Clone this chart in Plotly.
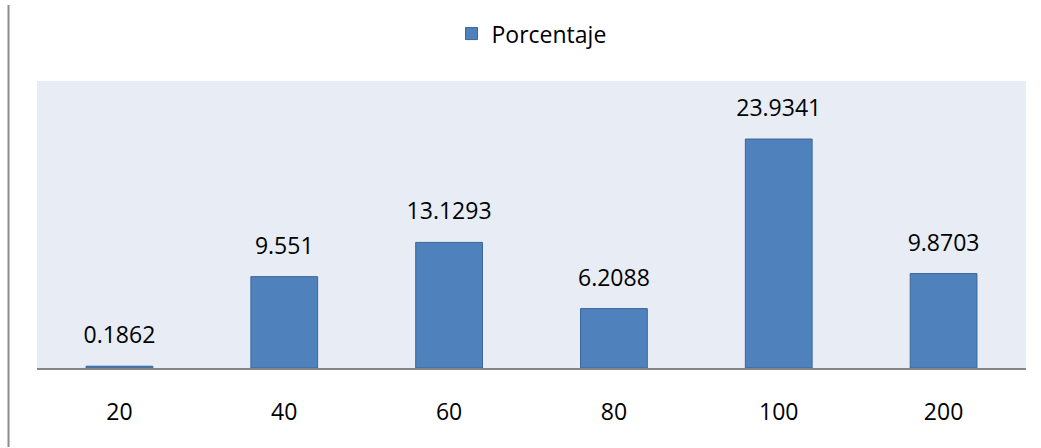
import plotly.graph_objects as go

categories = ["20", "40", "60", "80", "100", "200"]
values = [0.1862, 9.551, 13.1293, 6.2088, 23.9341, 9.8703]
labels = ["0.1862", "9.551", "13.1293", "6.2088", "23.9341", "9.8703"]
series_name = "Porcentaje"

FONT = "Open Sans"
FS = 23

fig = go.Figure()
fig.add_trace(go.Bar(
    x=categories, y=values, name=series_name,
    marker=dict(color="#4F81BD", line=dict(color="#3B6699", width=1)),
    width=0.405,
))
# data labels
fig.add_trace(go.Scatter(
    x=categories, y=values, text=labels, mode="markers+text",
    textposition="top center", marker=dict(size=26, opacity=0),
    textfont=dict(family=FONT, size=FS, color="#000000"),
    showlegend=False, hoverinfo="skip",
))

W, H = 1041, 448
ml, mr, mt, mb = 37, 15, 77, 80
pw = W - ml - mr
fig.add_shape(type="line", xref="paper", yref="paper",
              x0=(8.5 - ml) / pw, x1=(8.5 - ml) / pw, y0=-mb / (H - mt - mb), y1=1 + mt / (H - mt - mb),
              line=dict(color="#8C8C8C", width=2))

fig.update_layout(
    width=W, height=H,
    margin=dict(l=ml, r=mr, t=mt, b=mb),
    paper_bgcolor="white", plot_bgcolor="#E8ECF4",
    font=dict(family=FONT, size=FS, color="#000000"),
    showlegend=True,
    legend=dict(orientation="h", x=0.5, xanchor="center", y=1.24, yanchor="top",
                font=dict(family=FONT, size=FS), itemwidth=30),
    xaxis=dict(type="category", range=[-0.5, len(categories) - 0.5],
               showline=True, linecolor="#868686", linewidth=2, ticks="outside",
               ticklen=22, tickcolor="rgba(0,0,0,0)", showgrid=False,
               tickfont=dict(family=FONT, size=FS)),
    yaxis=dict(range=[0, 30], visible=False, showgrid=False, zeroline=False),
)

fig.write_html("out.html")
